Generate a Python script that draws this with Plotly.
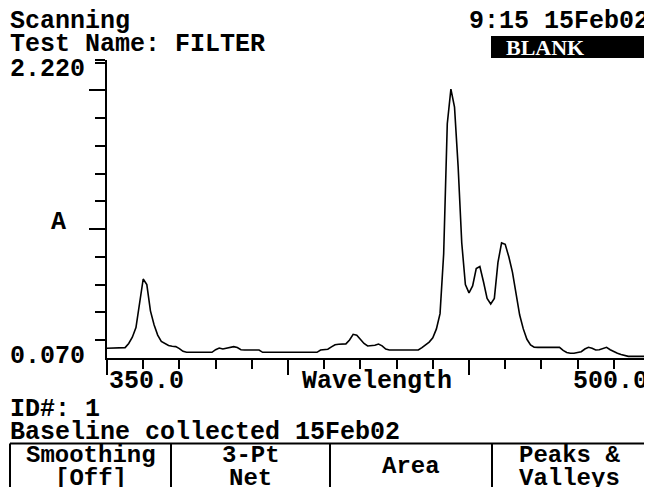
import plotly.graph_objects as go

# ---- data ----
wavelengths = list(range(350, 501))
absorbance = [
    0.140, 0.140, 0.140, 0.140, 0.140, 0.145, 0.175, 0.220, 0.290, 0.450,  # 350-359
    0.640, 0.600, 0.410, 0.310, 0.235, 0.190, 0.172, 0.160, 0.155, 0.152,  # 360-369
    0.138, 0.118, 0.111, 0.111, 0.111, 0.111, 0.111, 0.111, 0.111, 0.111,  # 370-379
    0.130, 0.142, 0.135, 0.140, 0.147, 0.152, 0.145, 0.130, 0.128, 0.128,  # 380-389
    0.128, 0.128, 0.128, 0.111, 0.111, 0.111, 0.111, 0.111, 0.111, 0.111,  # 390-399
    0.111, 0.111, 0.111, 0.111, 0.111, 0.111, 0.111, 0.111, 0.111, 0.128,  # 400-409
    0.130, 0.133, 0.150, 0.165, 0.169, 0.169, 0.172, 0.200, 0.241, 0.235,  # 410-419
    0.205, 0.175, 0.157, 0.157, 0.162, 0.171, 0.158, 0.135, 0.128, 0.128,  # 420-429
    0.128, 0.128, 0.128, 0.128, 0.128, 0.128, 0.128, 0.145, 0.165, 0.185,  # 430-439
    0.215, 0.280, 0.390, 0.820, 1.760, 2.010, 1.880, 1.450, 0.900, 0.600,  # 440-449
    0.540, 0.590, 0.715, 0.730, 0.620, 0.500, 0.460, 0.500, 0.760, 0.900,  # 450-459
    0.890, 0.800, 0.690, 0.540, 0.380, 0.280, 0.205, 0.165, 0.148, 0.147,  # 460-469
    0.147, 0.147, 0.147, 0.147, 0.147, 0.147, 0.125, 0.110, 0.104, 0.104,  # 470-479
    0.110, 0.115, 0.135, 0.147, 0.140, 0.128, 0.130, 0.140, 0.147, 0.130,  # 480-489
    0.115, 0.105, 0.095, 0.086, 0.082, 0.082, 0.082, 0.082, 0.082, 0.082,  # 490-499
    0.082,                                                                  # 500
]
x_range = [350.0, 500.0]
y_range = [0.070, 2.220]
x_tick_labels = ["350.0", "500.0"]
y_tick_labels = ["2.220", "0.070"]
y_minor_ticks = [0.2, 0.4, 0.6, 0.8, 1.2, 1.4, 1.6, 1.8, 2.2, 2.22]
y_major_ticks = [1.0, 2.0]
x_title = "Wavelength"
y_title = "A"
header_left = ["Scanning", "Test Name: FILTER"]
header_right = "9:15 15Feb02"
status_label = "BLANK"
footer_lines = ["ID#: 1", "Baseline collected 15Feb02"]
buttons = ["Smoothing<br>[Off]", "3-Pt<br>Net", "Area", "Peaks &<br>Valleys"]

# ---- layout geometry (page body has an 8px margin, so the figure is 8px smaller) ----
W, H = 644, 479
L, R, T, B = 99, 2, 52, 129
pw, ph = W - L - R, H - T - B
OFF = 8  # reference pixel -> figure pixel offset

def px(x):
    return (x - OFF - L) / pw

def py(y):
    return 1 - (y - OFF - T) / ph

FONT = "Liberation Mono"
FS = 25
BLACK = "#000000"

fig = go.Figure()
fig.add_trace(go.Scatter(x=wavelengths, y=absorbance, mode="lines",
                         line=dict(color=BLACK, width=1.6), hoverinfo="skip"))

annotations = []

def txt(text, x, y, xanchor="left", size=FS, color=BLACK, family=FONT, bold=True):
    annotations.append(dict(
        text=("<b>%s</b>" % text) if bold else text,
        x=px(x), y=py(y), xref="paper", yref="paper",
        xanchor=xanchor, yanchor="middle", showarrow=False,
        font=dict(family=family, size=size, color=color), borderpad=0))

txt(header_left[0], 9, 21)
txt(header_left[1], 9, 45)
txt(header_right, 650, 21, xanchor="right")
txt(y_tick_labels[0], 9, 69)
txt(y_tick_labels[1], 9, 356)
txt(y_title, 58, 222, xanchor="center")
annotations.append(dict(text="<b>%s</b>" % x_tick_labels[0], x=x_range[0], y=py(381),
                        xref="x", yref="paper", xanchor="left", yanchor="middle",
                        showarrow=False, font=dict(family=FONT, size=FS, color=BLACK)))
annotations.append(dict(text="<b>%s</b>" % x_tick_labels[1], x=x_range[1], y=py(381),
                        xref="x", yref="paper", xanchor="right", yanchor="middle",
                        showarrow=False, font=dict(family=FONT, size=FS, color=BLACK)))
txt(x_title, 377, 381, xanchor="center")
txt(footer_lines[0], 9, 409)
txt(footer_lines[1], 9, 432)
txt(status_label, 545, 47, xanchor="center", size=22, color="#ffffff",
    family="Liberation Serif")

btn_edges = [10, 171, 330, 492, 647]
for i, label in enumerate(buttons):
    cx = (btn_edges[i] + btn_edges[i + 1]) / 2
    if "<br>" in label:
        a, b = label.split("<br>")
        txt(a, cx, 455, xanchor="center", size=24)
        txt(b, cx, 478, xanchor="center", size=24)
    else:
        txt(label, cx, 466, xanchor="center", size=24)

shapes = []
shapes.append(dict(type="rect", xref="paper", yref="paper",
                   x0=px(491), x1=px(660), y0=py(58), y1=py(36),
                   fillcolor=BLACK, line=dict(width=0), layer="below"))
shapes.append(dict(type="line", xref="paper", yref="paper",
                   x0=px(10), x1=px(647), y0=py(443.5), y1=py(443.5),
                   line=dict(color=BLACK, width=2)))
for e in btn_edges:
    shapes.append(dict(type="line", xref="paper", yref="paper",
                       x0=px(e), x1=px(e), y0=py(443.5), y1=py(495),
                       line=dict(color=BLACK, width=2)))

fig.update_layout(
    width=W, height=H,
    margin=dict(l=L, r=R, t=T, b=B, pad=0),
    paper_bgcolor="white", plot_bgcolor="white",
    showlegend=False,
    annotations=annotations, shapes=shapes,
    xaxis=dict(range=x_range, showgrid=False, zeroline=False,
               showline=True, linecolor=BLACK, linewidth=2,
               ticks="outside", tickmode="linear", tick0=350, dtick=50,
               ticklen=15, tickwidth=2, tickcolor=BLACK, showticklabels=False,
               minor=dict(ticks="outside", tick0=350, dtick=10, ticklen=9,
                          tickwidth=2, tickcolor=BLACK, showgrid=False)),
    yaxis=dict(range=y_range, showgrid=False, zeroline=False,
               showline=True, linecolor=BLACK, linewidth=2,
               ticks="outside", tickmode="array", tickvals=y_major_ticks,
               ticklen=16, tickwidth=2, tickcolor=BLACK, showticklabels=False,
               minor=dict(ticks="outside", tickmode="array", tickvals=y_minor_ticks,
                          ticklen=10, tickwidth=2, tickcolor=BLACK, showgrid=False)),
)

fig.write_html("out.html")
